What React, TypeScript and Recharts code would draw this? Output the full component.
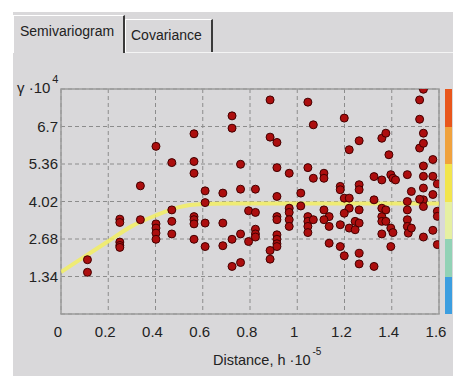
import { ComposedChart, Scatter, Line, XAxis, YAxis, CartesianGrid, ReferenceArea } from "recharts";

// lag distance (x10^-5) and semivariance (x10^4) of the cloud points
const lagH = [
  0.112, 0.112, 0.249, 0.249, 0.249, 0.249, 0.249, 0.336, 0.336, 0.402,
  0.402, 0.402, 0.402, 0.402, 0.469, 0.469, 0.469, 0.469, 0.563, 0.563,
  0.563, 0.563, 0.563, 0.563, 0.563, 0.61, 0.61, 0.61, 0.61, 0.685,
  0.685, 0.685, 0.724, 0.724, 0.724, 0.724, 0.76, 0.76, 0.76, 0.76,
  0.794, 0.794,
  0.823, 0.823, 0.823, 0.823, 0.823, 0.885, 0.885, 0.914, 0.914, 0.914,
  0.914, 0.914, 0.914, 0.914, 0.914, 0.914, 0.885, 0.885, 0.966, 0.966,
  0.966, 0.966, 0.966, 1.015, 1.015, 1.045, 1.045, 1.045, 1.045, 1.045,
  1.045, 1.068, 1.068, 1.068, 1.113, 1.113, 1.113, 1.135, 1.135, 1.135,
  1.113, 1.182, 1.182, 1.182, 1.182, 1.199, 1.199, 1.199, 1.22, 1.22,
  1.22, 1.22, 1.199, 1.245, 1.245, 1.262, 1.262, 1.262, 1.262, 1.262,
  1.262, 1.262, 1.325, 1.325, 1.325, 1.358, 1.358, 1.358, 1.358, 1.358,
  1.358, 1.375, 1.388, 1.396, 1.405, 1.416, 1.375, 1.375, 1.396, 1.396,
  1.405, 1.466, 1.466, 1.466, 1.466, 1.466, 1.47, 1.483, 1.483, 1.518,
  1.518, 1.534, 1.518, 1.534, 1.534, 1.534, 1.534, 1.534, 1.534, 1.534,
  1.534, 1.518, 1.574, 1.574, 1.593, 1.574, 1.593, 1.593, 1.574, 1.593,
];
const gamma = [
  1.94, 1.49, 3.39, 3.27, 2.57, 2.45, 2.38, 4.58, 3.37, 5.99,
  3.22, 3.07, 2.89, 2.67, 5.41, 3.72, 3.31, 2.86, 6.44, 5.45,
  5.03, 3.48, 3.37, 3.22, 2.67, 4.4, 3.98, 3.25, 2.41, 4.32,
  3.25, 2.44, 7.08, 6.64, 2.67, 1.7, 5.35, 4.46, 2.86, 1.84,
  3.69, 2.59,
  4.46, 3.63, 3.03, 2.86, 2.75, 7.65, 6.32, 6.13, 5.23, 4.2,
  3.48, 3.37, 2.83, 2.67, 2.51, 2.41, 2.27, 1.96, 5.03, 3.78,
  3.63, 3.37, 3.13, 4.32, 3.86, 7.57, 5.23, 3.48, 3.31, 3.13,
  2.91, 6.76, 4.85, 3.37, 5.03, 4.85, 3.72, 3.48, 3.13, 2.53,
  3.37, 4.56, 4.44, 3.19, 2.41, 7.0, 2.08, 4.14, 5.87, 4.14,
  3.78, 3.07, 3.6, 3.31, 3.01, 6.19, 4.62, 4.44, 3.72, 3.25,
  2.17, 1.79, 4.91, 4.08, 1.7, 6.28, 4.79, 3.78, 3.48, 3.31,
  2.86, 6.46, 5.69, 4.98, 4.85, 4.79, 3.72, 3.31, 3.07, 2.41,
  2.91, 4.98, 4.02, 3.72, 3.37, 3.13, 2.89, 4.38, 3.07, 7.65,
  6.96, 8.03, 5.93, 6.46, 6.1, 5.29, 4.5, 4.08, 3.84, 2.75,
  4.92, 4.1, 5.52, 4.92, 4.65, 4.27, 3.67, 3.49, 2.99, 2.48,
];

// fitted model curve
const modelH = [0, 0.1, 0.2, 0.3, 0.4, 0.5, 0.6, 0.7, 0.9, 1.1, 1.3, 1.6];
const modelG = [1.5, 2.05, 2.6, 3.14, 3.52, 3.82, 3.93, 3.95, 3.95, 3.95, 3.95, 3.95];

const xTicks = [0, 0.2, 0.4, 0.6, 0.8, 1, 1.2, 1.4, 1.6];
const yTicks = [1.34, 2.68, 4.02, 5.36, 6.7];
const yTickLabels = ["1.34", "2.68", "4.02", "5.36", "6.7"];

const barColors = ["#e8561c", "#f0a23e", "#f2e54e", "#e6f0a2", "#92d2b6", "#3c9ee0"];

const points = lagH.map((h, i) => ({ h, g: gamma[i] }));
const curve = modelH.map((h, i) => ({ h, g: modelG[i] }));

const FONT = "'Liberation Sans', Arial, sans-serif";
const INK = "#222";

const Dot = (props: any) => {
  const { cx, cy } = props;
  if (cx == null || cy == null) return null;
  return <circle cx={cx} cy={cy} r={4} fill="#ac0e0e" stroke="#420000" strokeWidth={1} />;
};

export default function App() {
  return (
    <div style={{ position: "fixed", left: 0, top: 0, width: 453, height: 376, background: "#fff", fontFamily: FONT, overflow: "hidden" }}>
      {/* grey panel */}
      <div style={{ position: "absolute", left: 13, top: 12, width: 440, height: 364, background: "#d9d8da" }} />
      {/* tabs */}
      <div style={{ position: "absolute", left: 125, top: 19, width: 88, height: 33, borderTop: "1px solid #fff", borderLeft: "1px solid #fff", borderRight: "2px solid #3a3a3a", boxSizing: "border-box" }} />
      <div style={{ position: "absolute", left: 124, top: 52, width: 329, height: 1, background: "#f4f4f4" }} />
      <div style={{ position: "absolute", left: 13, top: 15, width: 112, height: 38, borderTop: "1px solid #fff", borderLeft: "1px solid #fff", borderRight: "2px solid #3a3a3a", boxSizing: "border-box", background: "#d9d8da" }} />
      <div style={{ position: "absolute", left: 20, top: 23, fontSize: 14, color: INK, whiteSpace: "nowrap" }}>Semivariogram</div>
      <div style={{ position: "absolute", left: 131, top: 27, fontSize: 14, color: INK, whiteSpace: "nowrap" }}>Covariance</div>

      <div style={{ position: "absolute", left: 0, top: 0 }}>
        <ComposedChart width={453} height={376} margin={{ top: 89, right: 14, bottom: 32, left: 13 }}>
          <CartesianGrid stroke="#8c8c8c" strokeDasharray="4 3" />
          <XAxis
            dataKey="h"
            type="number"
            domain={[0, 1.6]}
            ticks={xTicks}
            allowDataOverflow
            axisLine={false}
            tickLine={false}
            tickSize={10}
            tickMargin={2}
            height={30}
            tick={{ fill: INK, fontSize: 15, fontFamily: FONT, dx: -3 }}
          />
          <YAxis
            type="number"
            domain={[0, 8.04]}
            ticks={yTicks}
            allowDataOverflow
            tickFormatter={(v: number) => yTickLabels[yTicks.indexOf(v)] ?? String(v)}
            axisLine={false}
            tickLine={false}
            tickSize={1}
            tickMargin={2}
            width={48}
            tick={{ fill: INK, fontSize: 15, fontFamily: FONT }}
          />
          <ReferenceArea x1={0} x2={1.6} y1={0} y2={8.04} fill="none" stroke="#9c9c9c" strokeWidth={1.5} ifOverflow="visible" />
          <Scatter data={points} dataKey="g" shape={<Dot />} isAnimationActive={false} />
          <Line
            data={curve}
            dataKey="g"
            type="monotone"
            stroke="#f4f05a"
            strokeOpacity={0.8}
            strokeWidth={4}
            dot={false}
            activeDot={false}
            isAnimationActive={false}
          />
        </ComposedChart>
      </div>

      {/* colour bar */}
      <div style={{ position: "absolute", left: 445, top: 89, width: 7, height: 225, display: "flex", flexDirection: "column" }}>
        {barColors.map((c) => (
          <div key={c} style={{ flex: 1, background: c }} />
        ))}
      </div>

      {/* axis titles */}
      <div style={{ position: "absolute", left: 17, top: 79, fontSize: 15, color: INK, whiteSpace: "nowrap" }}>
        γ ·10<span style={{ position: "relative", top: -10, fontSize: 11, marginLeft: 2 }}>4</span>
      </div>
      <div style={{ position: "absolute", left: 213, top: 352, fontSize: 14.5, color: INK, whiteSpace: "nowrap" }}>
        Distance, h ·10<span style={{ position: "relative", top: -10, fontSize: 10, marginLeft: 2 }}>-5</span>
      </div>
    </div>
  );
}
